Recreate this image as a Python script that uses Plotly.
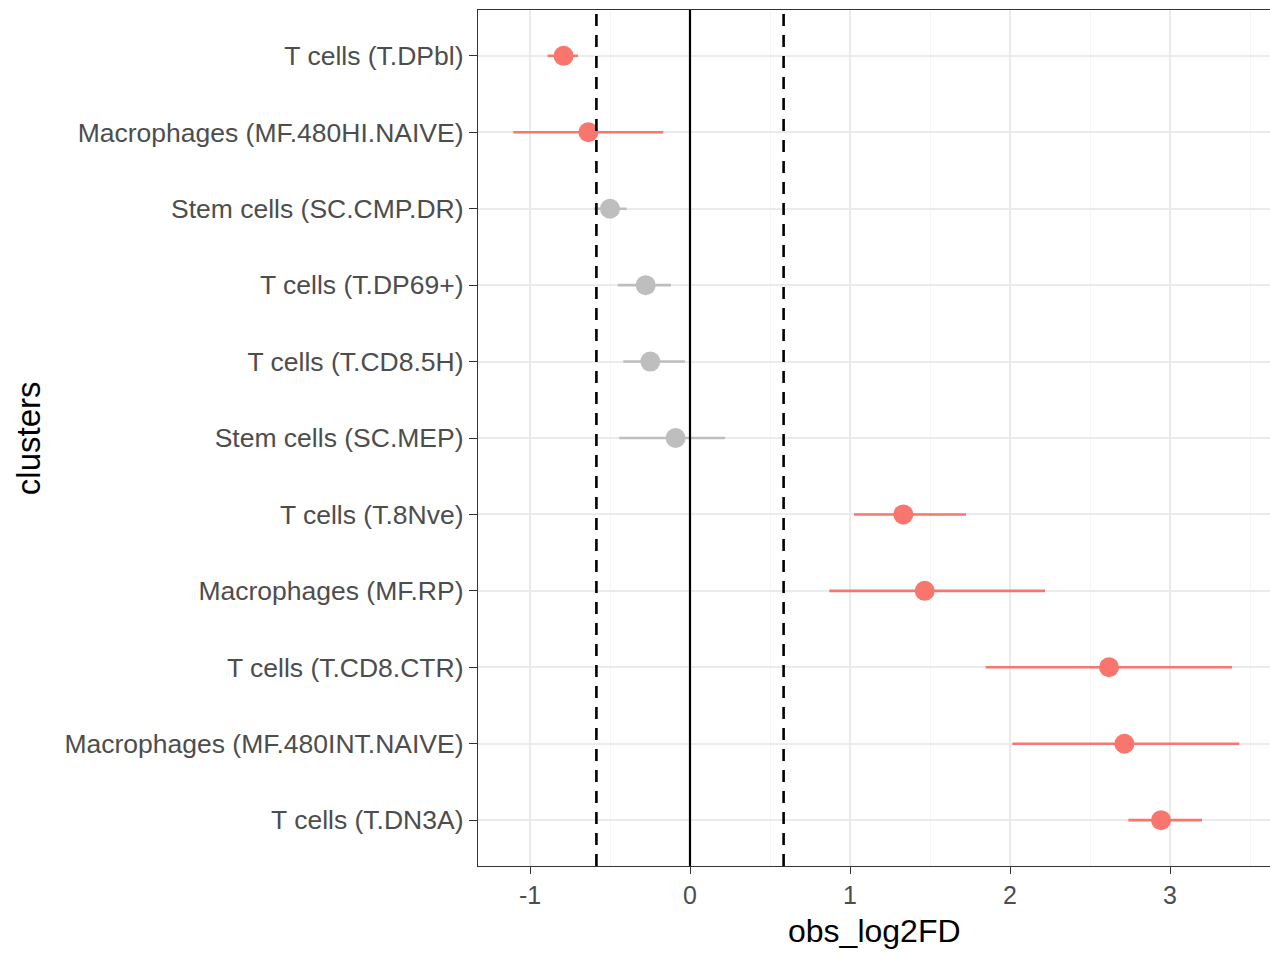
import plotly.graph_objects as go

clusters = [
    "T cells (T.DPbl)",
    "Macrophages (MF.480HI.NAIVE)",
    "Stem cells (SC.CMP.DR)",
    "T cells (T.DP69+)",
    "T cells (T.CD8.5H)",
    "Stem cells (SC.MEP)",
    "T cells (T.8Nve)",
    "Macrophages (MF.RP)",
    "T cells (T.CD8.CTR)",
    "Macrophages (MF.480INT.NAIVE)",
    "T cells (T.DN3A)",
]
obs_log2FD = [-0.79, -0.635, -0.50, -0.277, -0.248, -0.09, 1.333, 1.467, 2.619, 2.715, 2.944]
lower_ci = [-0.89, -1.104, -0.60, -0.452, -0.417, -0.442, 1.025, 0.871, 1.848, 2.015, 2.74]
upper_ci = [-0.70, -0.167, -0.396, -0.119, -0.031, 0.219, 1.725, 2.219, 3.388, 3.433, 3.20]
significant = [True, True, False, False, False, False, True, True, True, True, True]
threshold = 0.585

RED = "#F8766D"
GREY = "#BEBEBE"

fig = go.Figure()
for flag, color in [(False, GREY), (True, RED)]:
    idx = [i for i, s in enumerate(significant) if s == flag]
    xs = [obs_log2FD[i] for i in idx]
    ys = [clusters[i] for i in idx]
    plus = [upper_ci[i] - obs_log2FD[i] for i in idx]
    minus = [obs_log2FD[i] - lower_ci[i] for i in idx]
    fig.add_trace(go.Scatter(
        x=xs, y=ys, mode="markers",
        marker=dict(size=20, color=color, line=dict(width=0)),
        error_x=dict(type="data", symmetric=False, array=plus, arrayminus=minus,
                     color=color, thickness=2.6, width=0),
        showlegend=False,
    ))

for xv, dash, w in [(0, "solid", 2.2), (-threshold, "12px,9px", 2.6), (threshold, "12px,9px", 2.6)]:
    fig.add_shape(type="line", xref="x", yref="paper", x0=xv, x1=xv, y0=0, y1=1,
                  line=dict(color="black", width=w, dash=dash), layer="above")

fig.update_layout(
    width=1270, height=953,
    margin=dict(l=478, r=0, t=10, b=87),
    paper_bgcolor="white", plot_bgcolor="white",
    font=dict(family="Liberation Sans, Arial, sans-serif"),
    xaxis=dict(
        range=[-1.325, 3.625], tickvals=[-1, 0, 1, 2, 3], ticktext=["-1", "0", "1", "2", "3"],
        showgrid=True, gridcolor="#EBEBEB", gridwidth=1.6,
        minor=dict(tickvals=[-0.5, 0.5, 1.5, 2.5, 3.5], showgrid=True, gridcolor="#F5F5F5", gridwidth=1),
        zeroline=False, showline=True, linecolor="#333333", linewidth=1.4, mirror=True,
        ticks="outside", ticklen=7, tickwidth=1.4, tickcolor="#333333",
        tickfont=dict(size=25, color="#4D4D4D"),
    ),
    yaxis=dict(
        type="category", categoryorder="array", categoryarray=clusters,
        range=[10.6, -0.6],
        showgrid=True, gridcolor="#EBEBEB", gridwidth=1.6,
        zeroline=False, showline=True, linecolor="#333333", linewidth=1.4, mirror=False,
        ticks="outside", ticklen=8, tickwidth=1.4, tickcolor="#333333",
        tickfont=dict(size=26.5, color="#4D4D4D"),
    ),
    annotations=[
        dict(text="obs_log2FD", xref="paper", yref="paper", x=0.5, y=-0.076,
             xanchor="center", yanchor="middle", showarrow=False,
             font=dict(size=32, color="black")),
        dict(text="clusters", xref="paper", yref="paper", x=-0.568, y=0.5,
             xanchor="center", yanchor="middle", textangle=-90, showarrow=False,
             font=dict(size=33, color="black")),
    ],
)

fig.write_html(
    "out.html",
    config={"displayModeBar": False},
    post_script="document.body.style.margin='0';document.body.style.padding='0';document.body.style.overflow='hidden';",
)
